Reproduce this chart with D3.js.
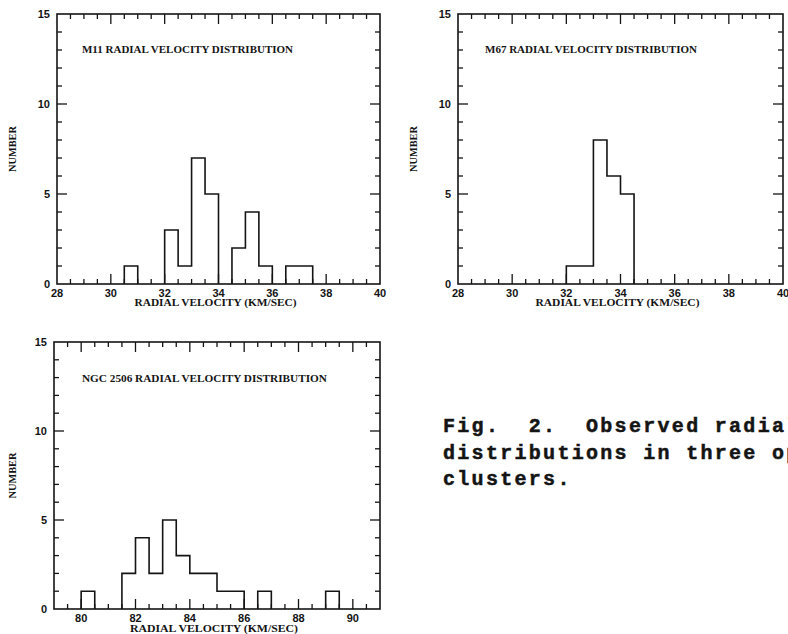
<!DOCTYPE html>
<html>
<head>
<meta charset="utf-8">
<script src="https://cdn.jsdelivr.net/npm/d3@7"></script>
<style>
  html, body { margin: 0; padding: 0; background: #fff; }
  svg { display: block; }
</style>
</head>
<body>
<svg id="chart" width="788" height="634"></svg>
<script>
// ---- Data ----
const binWidth = 0.5;

const m11BinStarts = [30.5, 32, 32.5, 33, 33.5, 34.5, 35, 35.5, 36.5, 37];
const m11Counts    = [1, 3, 1, 7, 5, 2, 4, 1, 1, 1];

const m67BinStarts = [32, 32.5, 33, 33.5, 34];
const m67Counts    = [1, 1, 8, 6, 5];

const ngcBinStarts = [80, 81.5, 82, 82.5, 83, 83.5, 84, 84.5, 85, 85.5, 86.5, 89];
const ngcCounts    = [1, 2, 4, 2, 5, 3, 2, 2, 1, 1, 1, 1];

const m67XTicks = [28, 30, 32, 34, 36, 38, 40];
const m11XTicks = [28, 30, 32, 34, 36, 38, 40];
const ngcXTicks = [80, 82, 84, 86, 88, 90];
const yTicks = [0, 5, 10, 15];

const titles = ["M11 RADIAL VELOCITY DISTRIBUTION", "M67 RADIAL VELOCITY DISTRIBUTION", "NGC 2506 RADIAL VELOCITY DISTRIBUTION"];
const xLabel = "RADIAL VELOCITY (KM/SEC)";
const yLabel = "NUMBER";
const captionLines = ["Fig.  2.  Observed radial velocity", "distributions in three open", "clusters."];

// ---- Drawing ----
const svg = d3.select("#chart");
const ink = "#141414";

const panels = [
  { x0: 57, x1: 380, y0: 14, y1: 284, xd: [28, 40], bins: m11BinStarts, counts: m11Counts, xt: m11XTicks, title: titles[0],
    titleX: 82, titleY: 53, titleLen: 211, ylabX: 16, xlabY: 306, xlabLen: 162 },
  { x0: 458, x1: 783, y0: 14, y1: 284, xd: [28, 40], bins: m67BinStarts, counts: m67Counts, xt: m67XTicks, title: titles[1],
    titleX: 485, titleY: 53, titleLen: 212, ylabX: 417, xlabY: 306, xlabLen: 164 },
  { x0: 54, x1: 380, y0: 342, y1: 609, xd: [79, 91], bins: ngcBinStarts, counts: ngcCounts, xt: ngcXTicks, title: titles[2],
    titleX: 82, titleY: 382, titleLen: 245, ylabX: 16, xlabY: 632, xlabLen: 168 }
];

panels.forEach(p => {
  const x = d3.scaleLinear().domain(p.xd).range([p.x0, p.x1]);
  const y = d3.scaleLinear().domain([0, 15]).range([p.y1, p.y0]);
  const g = svg.append("g");

  // Minor / major ticks (inward on all four sides)
  const xMinor = d3.range(p.xd[0], p.xd[1] + 0.001, 0.5);
  const xMajorSet = new Set(p.xt);
  xMinor.forEach(v => {
    const len = xMajorSet.has(v) ? 10 : 5;
    if (v === p.xd[0] || v === p.xd[1]) return;
    g.append("line").attr("x1", x(v)).attr("x2", x(v)).attr("y1", p.y1).attr("y2", p.y1 - len)
      .attr("stroke", ink).attr("stroke-width", 1.3);
    g.append("line").attr("x1", x(v)).attr("x2", x(v)).attr("y1", p.y0).attr("y2", p.y0 + len)
      .attr("stroke", ink).attr("stroke-width", 1.3);
  });
  d3.range(1, 15).forEach(v => {
    const len = (v % 5 === 0) ? 10 : 5;
    g.append("line").attr("x1", p.x0).attr("x2", p.x0 + len).attr("y1", y(v)).attr("y2", y(v))
      .attr("stroke", ink).attr("stroke-width", 1.3);
    g.append("line").attr("x1", p.x1).attr("x2", p.x1 - len).attr("y1", y(v)).attr("y2", y(v))
      .attr("stroke", ink).attr("stroke-width", 1.3);
  });

  // Frame
  g.append("rect").attr("x", p.x0).attr("y", p.y0).attr("width", p.x1 - p.x0).attr("height", p.y1 - p.y0)
    .attr("fill", "none").attr("stroke", ink).attr("stroke-width", 1.6);

  // Histogram step outline: contiguous runs of bins
  const runs = [];
  p.bins.forEach((b, i) => {
    const last = runs[runs.length - 1];
    if (last && Math.abs(last[last.length - 1].b + binWidth - b) < 1e-6) last.push({ b, c: p.counts[i] });
    else runs.push([{ b, c: p.counts[i] }]);
  });
  runs.forEach(run => {
    let d = `M${x(run[0].b)},${y(0)}`;
    run.forEach(r => { d += `V${y(r.c)}H${x(r.b + binWidth)}`; });
    d += `V${y(0)}`;
    g.append("path").attr("d", d).attr("fill", "none").attr("stroke", ink).attr("stroke-width", 1.6)
      .attr("stroke-linejoin", "miter");
  });

  // Tick labels
  p.xt.forEach(v => {
    g.append("text").attr("x", x(v)).attr("y", p.y1 + 12.5).attr("text-anchor", "middle")
      .attr("font-family", "Liberation Sans, Arial, sans-serif").attr("font-weight", "bold")
      .attr("font-size", 11).attr("fill", ink).text(v);
  });
  yTicks.forEach(v => {
    g.append("text").attr("x", p.x0 - 7).attr("y", y(v) + 4).attr("text-anchor", "end")
      .attr("font-family", "Liberation Sans, Arial, sans-serif").attr("font-weight", "bold")
      .attr("font-size", 11).attr("fill", ink).text(v);
  });

  // Axis labels
  g.append("text").attr("x", (p.x0 + p.x1) / 2 - 3).attr("y", p.xlabY).attr("text-anchor", "middle")
    .attr("font-family", "Liberation Serif, Times New Roman, serif").attr("font-weight", "bold")
    .attr("font-size", 10.5).attr("fill", ink)
    .attr("textLength", p.xlabLen).attr("lengthAdjust", "spacingAndGlyphs").text(xLabel);
  const yc = (p.y0 + p.y1) / 2;
  g.append("text").attr("transform", `translate(${p.ylabX},${yc}) rotate(-90)`).attr("text-anchor", "middle")
    .attr("font-family", "Liberation Serif, Times New Roman, serif").attr("font-weight", "bold")
    .attr("font-size", 11).attr("fill", ink)
    .attr("textLength", 46).attr("lengthAdjust", "spacingAndGlyphs").text(yLabel);

  // Title inside
  g.append("text").attr("x", p.titleX).attr("y", p.titleY)
    .attr("font-family", "Liberation Serif, Times New Roman, serif").attr("font-weight", "bold")
    .attr("font-size", 10).attr("fill", ink)
    .attr("textLength", p.titleLen).attr("lengthAdjust", "spacingAndGlyphs").text(p.title);
});

// Caption
captionLines.forEach((line, i) => {
  svg.append("text").attr("x", 443).attr("y", 432 + i * 26.5)
    .attr("font-family", "Liberation Mono, Courier New, monospace").attr("font-weight", "bold")
    .attr("font-size", 20).attr("letter-spacing", 2.3).attr("fill", ink)
    .attr("stroke", ink).attr("stroke-width", 0.5)
    .attr("xml:space", "preserve").style("white-space", "pre").text(line);
});
</script>
</body>
</html>
